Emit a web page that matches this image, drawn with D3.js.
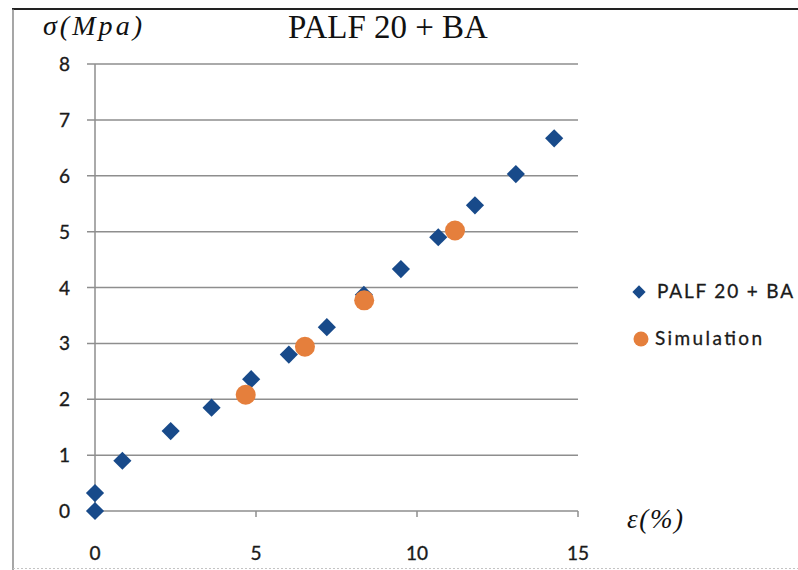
<!DOCTYPE html>
<html>
<head>
<meta charset="utf-8">
<script src="https://cdn.jsdelivr.net/npm/d3@7"></script>
<style>
  html, body { margin: 0; padding: 0; background: #fff; }
  svg { display: block; }
</style>
</head>
<body>
<svg id="chart" width="798" height="570"></svg>
<script>
// ---- data ----
const expStrain = [0, 0, 0.85, 2.35, 3.62, 4.85, 6.02, 7.2, 8.35, 9.5, 10.66, 11.8, 13.07, 14.26];
const expStress = [0, 0.32, 0.9, 1.43, 1.85, 2.36, 2.8, 3.29, 3.87, 4.33, 4.9, 5.47, 6.03, 6.67];
const simStrain = [4.68, 6.52, 8.36, 11.18];
const simStress = [2.08, 2.94, 3.77, 5.02];
const xTicks = [0, 5, 10, 15];
const yTicks = [0, 1, 2, 3, 4, 5, 6, 7, 8];
const seriesNames = ["PALF 20 + BA", "Simulation"];
const chartTitle = "PALF 20 + BA";
const yLabel = "σ(Mpa)";
const xLabel = "ε(%)";

const svg = d3.select("#chart");
const blue = "#184A8A";
const orange = "#E57F3C";
const gridColor = "#8e8e8e";
const tickFont = "Lato, 'Liberation Sans', sans-serif";
const serif = "'Liberation Serif', 'Times New Roman', serif";

const x = d3.scaleLinear().domain([0, 15]).range([95, 578]);
const y = d3.scaleLinear().domain([0, 8]).range([511, 64]);

// frame
svg.append("line").attr("x1", 12).attr("x2", 798).attr("y1", 9).attr("y2", 9)
  .attr("stroke", "#222").attr("stroke-width", 2.2);
svg.append("line").attr("x1", 13).attr("x2", 13).attr("y1", 9).attr("y2", 570)
  .attr("stroke", "#777").attr("stroke-width", 1.3);
svg.append("line").attr("x1", 13).attr("x2", 798).attr("y1", 568.5).attr("y2", 568.5)
  .attr("stroke", "#c4c4c4").attr("stroke-width", 1).attr("stroke-dasharray", "2,2");

// horizontal gridlines
svg.append("g").selectAll("line").data(yTicks).join("line")
  .attr("x1", 87).attr("x2", x(15))
  .attr("y1", d => y(d)).attr("y2", d => y(d))
  .attr("stroke", gridColor).attr("stroke-width", 1.5);

// y axis line
svg.append("line").attr("x1", x(0)).attr("x2", x(0))
  .attr("y1", y(8)).attr("y2", y(0))
  .attr("stroke", gridColor).attr("stroke-width", 1.5);

// x ticks
svg.append("g").selectAll("line").data(xTicks.filter(d => d > 0)).join("line")
  .attr("x1", d => x(d)).attr("x2", d => x(d))
  .attr("y1", y(0)).attr("y2", y(0) + 6)
  .attr("stroke", gridColor).attr("stroke-width", 1.5);

// y tick labels
svg.append("g").selectAll("text").data(yTicks).join("text")
  .attr("x", 70).attr("y", d => y(d) + 7)
  .attr("text-anchor", "end")
  .attr("font-family", tickFont).attr("font-size", 19)
  .attr("fill", "#1a1a1a").attr("stroke", "#1a1a1a").attr("stroke-width", 0.35)
  .text(d => d);

// x tick labels
svg.append("g").selectAll("text").data(xTicks).join("text")
  .attr("x", d => x(d)).attr("y", 560)
  .attr("text-anchor", "middle")
  .attr("font-family", tickFont).attr("font-size", 19)
  .attr("fill", "#1a1a1a").attr("stroke", "#1a1a1a").attr("stroke-width", 0.35)
  .text(d => d);

// title and axis labels
svg.append("text").attr("x", 388).attr("y", 38)
  .attr("text-anchor", "middle")
  .attr("font-family", serif)
  .attr("font-size", 33).attr("fill", "#111")
  .text(chartTitle);
svg.append("text").attr("x", 43).attr("y", 35)
  .attr("font-family", serif)
  .attr("font-style", "italic")
  .attr("font-size", 28).attr("fill", "#111")
  .attr("textLength", 99).attr("lengthAdjust", "spacing")
  .text(yLabel);
svg.append("text").attr("x", 627).attr("y", 528)
  .attr("font-family", serif)
  .attr("font-style", "italic")
  .attr("font-size", 27).attr("fill", "#111")
  .attr("textLength", 56).attr("lengthAdjust", "spacing")
  .text(xLabel);

// series
const expData = expStrain.map((d, i) => [d, expStress[i]]);
const simData = simStrain.map((d, i) => [d, simStress[i]]);
const diamond = d3.symbol().type(d3.symbolSquare).size(165);

svg.append("g").selectAll("path").data(expData).join("path")
  .attr("d", diamond)
  .attr("transform", d => `translate(${x(d[0])},${y(d[1])}) rotate(45)`)
  .attr("fill", blue);

svg.append("g").selectAll("circle").data(simData).join("circle")
  .attr("cx", d => x(d[0])).attr("cy", d => y(d[1]))
  .attr("r", 10)
  .attr("fill", orange);

// legend
const legend = svg.append("g");
legend.append("path")
  .attr("d", d3.symbol().type(d3.symbolSquare).size(88))
  .attr("transform", "translate(639,292) rotate(45)")
  .attr("fill", blue);
legend.append("circle").attr("cx", 641).attr("cy", 339).attr("r", 7.5).attr("fill", orange);
legend.selectAll("text").data(seriesNames).join("text")
  .attr("x", (d, i) => i === 0 ? 657 : 655)
  .attr("y", (d, i) => i === 0 ? 298 : 345)
  .attr("font-family", tickFont).attr("font-size", 19)
  .attr("fill", "#1a1a1a").attr("stroke", "#1a1a1a").attr("stroke-width", 0.3)
  .attr("textLength", (d, i) => i === 0 ? 136 : 107).attr("lengthAdjust", "spacing")
  .text(d => d);
</script>
</body>
</html>
